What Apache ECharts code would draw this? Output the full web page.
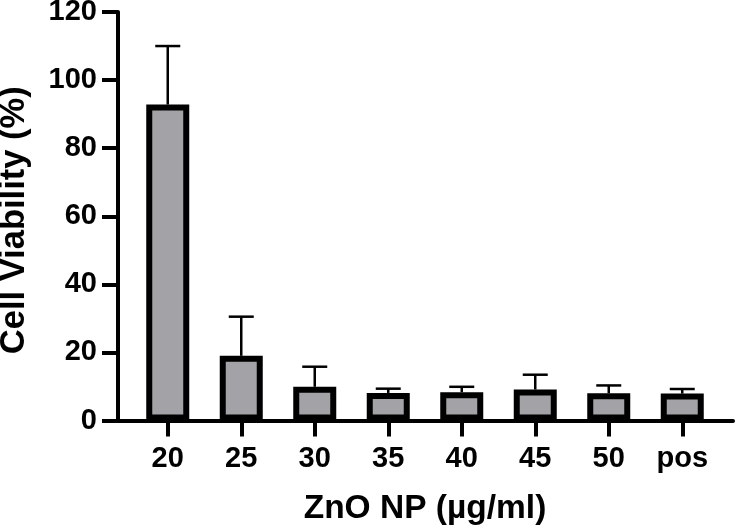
<!DOCTYPE html>
<html>
<head>
<meta charset="utf-8">
<script src="https://cdn.jsdelivr.net/npm/echarts@6/dist/echarts.min.js"></script>
<style>
html,body{margin:0;padding:0;background:#fff;}
#chart{width:735px;height:530px;}
</style>
</head>
<body>
<div id="chart"></div>
<script>
// Data
const categories = ['20', '25', '30', '35', '40', '45', '50', 'pos'];
const means = [92.8, 19.0, 9.9, 8.1, 8.3, 9.1, 8.0, 7.9];
const errors = [17.2, 11.5, 5.9, 1.25, 1.6, 4.35, 2.3, 1.35];
const yTicks = [0, 20, 40, 60, 80, 100, 120];

const FONT = '"Liberation Sans", Arial, Helvetica, sans-serif';
const chart = echarts.init(document.getElementById('chart'), null, {renderer: 'canvas'});

const errData = categories.map((c, i) => [i, means[i], means[i] + errors[i]]);

const option = {
  animation: false,
  backgroundColor: '#ffffff',
  grid: [
    {left: 131, right: 16, top: 12, bottom: 109.5, containLabel: false, outerBoundsMode: 'none'},
    {left: 118, right: 2, top: 12, bottom: 109.5, containLabel: false, outerBoundsMode: 'none'}
  ],
  xAxis: [
    {
      type: 'category',
      gridIndex: 0,
      data: categories,
      boundaryGap: true,
      axisLine: {show: true, lineStyle: {color: '#000', width: 4}},
      axisTick: {show: true, alignWithLabel: true, length: 16, lineStyle: {color: '#000', width: 4}},
      axisLabel: {color: '#000', fontFamily: FONT, fontWeight: 'bold', fontSize: 29, margin: 24},
      name: 'ZnO NP (µg/ml)',
      nameLocation: 'middle',
      nameGap: 71,
      nameTextStyle: {color: '#000', fontFamily: FONT, fontWeight: 'bold', fontSize: 33.5}
    },
    {
      type: 'value',
      gridIndex: 1,
      min: 0, max: 1,
      axisLine: {show: true, lineStyle: {color: '#000', width: 4}},
      axisTick: {show: false},
      axisLabel: {show: false},
      splitLine: {show: false}
    }
  ],
  yAxis: [
    {
      type: 'value',
      gridIndex: 0,
      min: yTicks[0],
      max: yTicks[yTicks.length - 1],
      interval: 20,
      offset: 13,
      axisLine: {show: true, lineStyle: {color: '#000', width: 4}},
      axisTick: {show: true, length: 16, lineStyle: {color: '#000', width: 4}},
      axisLabel: {color: '#000', fontFamily: FONT, fontWeight: 'bold', fontSize: 29, margin: 21},
      splitLine: {show: false},
      name: 'Cell Viability (%)',
      nameLocation: 'middle',
      nameRotate: 90,
      nameGap: 86,
      nameTextStyle: {color: '#000', fontFamily: FONT, fontWeight: 'bold', fontSize: 34.5, padding: [0, 8, 0, 0]}
    },
    {
      type: 'value',
      gridIndex: 1,
      show: false,
      min: 0, max: 120
    }
  ],
  series: [
    {
      type: 'bar',
      xAxisIndex: 0,
      yAxisIndex: 0,
      data: means,
      barWidth: 43,
      itemStyle: {color: '#a3a2a7', borderColor: '#000', borderWidth: 6},
      z: 2
    },
    {
      type: 'custom',
      xAxisIndex: 0,
      yAxisIndex: 0,
      data: errData,
      z: 1,
      renderItem: function (params, api) {
        const x = api.value(0);
        const base = api.coord([x, api.value(1)]);
        const top = api.coord([x, api.value(2)]);
        const half = 12.5;
        const style = {stroke: '#000', lineWidth: 2.5, fill: null};
        return {
          type: 'group',
          children: [
            {type: 'line', shape: {x1: base[0], y1: base[1], x2: top[0], y2: top[1]}, style: style},
            {type: 'line', shape: {x1: top[0] - half, y1: top[1], x2: top[0] + half, y2: top[1]}, style: style}
          ]
        };
      }
    }
  ]
};
chart.setOption(option);
</script>
</body>
</html>
